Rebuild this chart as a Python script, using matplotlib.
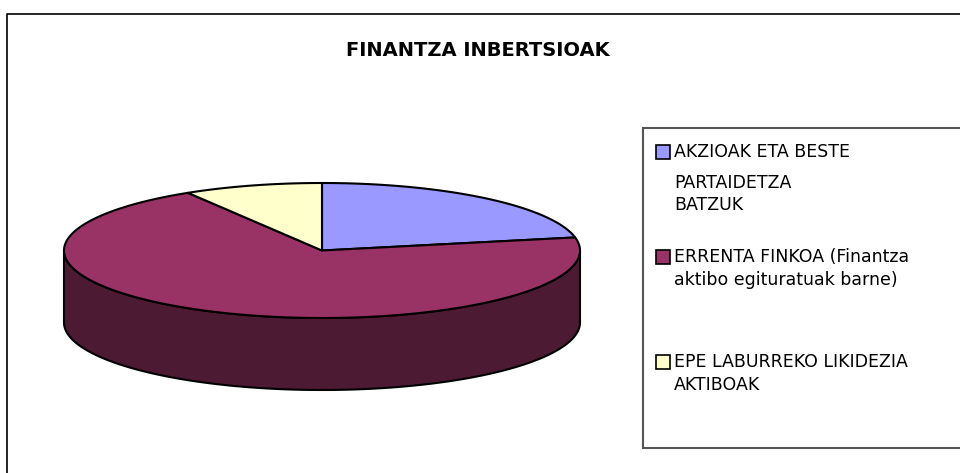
import numpy as np
import matplotlib
matplotlib.use("Agg")
import matplotlib.pyplot as plt
from matplotlib.patches import Polygon, Rectangle
from matplotlib.lines import Line2D

# chart data
title = "FINANTZA INBERTSIOAK"
labels = ["AKZIOAK ETA BESTE\nPARTAIDETZA\nBATZUK",
          "ERRENTA FINKOA (Finantza\naktibo egituratuak barne)",
          "EPE LABURREKO LIKIDEZIA\nAKTIBOAK"]
values = [21.9, 69.4, 8.7]
colors = ["#9999FF", "#993366", "#FFFFCC"]

# pie geometry (pixels)
CX, CY, RX, RY, DEPTH = 322, 250.5, 258, 67.5, 72


def darker(c, f=0.5):
    r, g, b = matplotlib.colors.to_rgb(c)
    return (r * f, g * f, b * f)


def arc(t0, t1, dy=0, n=200):
    t = np.radians(np.linspace(t0, t1, n))
    return np.column_stack([CX + RX * np.cos(t), CY - RY * np.sin(t) + dy])


fig = plt.figure(figsize=(9.6, 4.73), dpi=100)
ax = fig.add_axes([0, 0, 1, 1])
ax.set_xlim(0, 960)
ax.set_ylim(473, 0)
ax.axis("off")

# chart frame (right/bottom edges are off-image)
ax.add_line(Line2D([7, 7, 960], [473, 14, 14], color="black", lw=1.2))

# slices, clockwise from 12 o'clock
fracs = np.array(values) / sum(values)
ends = 90 - np.cumsum(fracs) * 360
starts = np.concatenate([[90], ends[:-1]])

# visible side (front half)
for s, e, c in zip(starts, ends, colors):
    for off in (-360, 0, 360):
        lo, hi = max(e + off, -180), min(s + off, 0)
        if hi > lo:
            pts = np.vstack([arc(lo, hi), arc(hi, lo, DEPTH)])
            ax.add_patch(Polygon(pts, closed=True, fc=darker(c), ec="black",
                                 lw=1.5, joinstyle="round"))

# top faces
for s, e, c in zip(starts, ends, colors):
    pts = np.vstack([[CX, CY], arc(s, e)])
    ax.add_patch(Polygon(pts, closed=True, fc=c, ec="black", lw=1.5,
                         joinstyle="round"))

ax.text(478, 51, title, ha="center", va="center", fontsize=14,
        fontweight="bold", family="DejaVu Sans")

# legend
ax.add_patch(Rectangle((643, 128), 330, 320, fc="white", ec="#555555", lw=1.5))
swatch_y = [152, 257, 362]
for lab, c, y in zip(labels, colors, swatch_y):
    ax.add_patch(Rectangle((656, y - 7), 14, 14, fc=c, ec="black", lw=1.2))
    lines = lab.split("\n")
    ax.text(674, y, lines[0], ha="left", va="center", fontsize=12.5,
            family="DejaVu Sans")
    if len(lines) > 1:
        # first continuation line sits lower in the first entry
        y2 = y + (31 if len(lines) == 3 else 23)
        for ln in lines[1:]:
            ax.text(674, y2, ln, ha="left", va="center", fontsize=12.5,
                    family="DejaVu Sans")
            y2 += 22

fig.savefig("out.png", dpi=100)
